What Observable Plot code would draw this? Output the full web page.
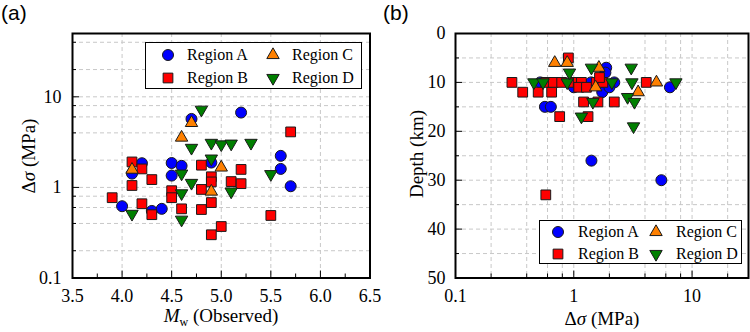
<!DOCTYPE html>
<html><head><meta charset="utf-8">
<script src="https://cdn.jsdelivr.net/npm/d3@7"></script>
<script src="https://cdn.jsdelivr.net/npm/@observablehq/plot@0.6"></script>
<style>
body{margin:0;background:#fff;}
#wrap{position:relative;width:750px;height:332px;overflow:hidden;font-family:"Liberation Serif",serif;color:#000;}
.panel{position:absolute;top:0;}
.lab{position:absolute;font-size:19px;line-height:1;white-space:nowrap;transform:translate(-50%,-50%);}
.rot{transform:translate(-50%,-50%) rotate(-90deg);}
.lab sub{font-size:12px;vertical-align:-4px;font-style:normal;}
.tag{position:absolute;font-family:"Liberation Sans",Arial,sans-serif;font-size:21px;line-height:1;}
.legend{position:absolute;background:#fff;border:1.5px solid #000;box-sizing:border-box;}
.li{position:absolute;font-size:16px;line-height:1;white-space:nowrap;transform:translateY(-50%);}
.ls{position:absolute;}
</style>
</head><body>
<div id="wrap"></div>
<script>
// ---------- Data: panel (a) Mw vs stress drop ----------
const aMwA   = [4.0, 4.1, 4.2, 4.3, 4.4, 4.5, 4.5, 4.6, 4.7, 4.9, 5.2, 5.6, 5.6, 5.7];
const aDropA = [0.62, 1.42, 1.85, 0.55, 0.58, 1.86, 1.35, 1.73, 5.7, 1.88, 6.7, 2.23, 1.6, 1.03];
const aMwB   = [3.9, 4.1, 4.1, 4.2, 4.2, 4.3, 4.3, 4.5, 4.5, 4.6, 4.8, 4.8, 4.8, 4.9, 4.9, 4.9, 4.9, 5.0, 5.1, 5.2, 5.2, 5.5, 5.7];
const aDropB = [0.77, 1.91, 1.05, 1.6, 0.66, 1.22, 0.5, 0.92, 0.77, 0.58, 1.76, 0.95, 0.57, 1.31, 1.15, 0.68, 0.3, 0.37, 1.16, 1.58, 1.1, 0.49, 4.1];
const aMwC   = [4.1, 4.6, 4.7, 4.9, 5.0];
const aDropC = [1.57, 3.55, 5.15, 0.9, 1.66];
const aMwD   = [4.1, 4.6, 4.6, 4.6, 4.7, 4.7, 4.8, 4.9, 4.9, 5.0, 5.1, 5.1, 5.3, 5.5];
const aDropD = [0.51, 1.42, 0.86, 0.44, 2.73, 1.12, 7.2, 3.1, 2.08, 2.98, 3.04, 0.9, 3.1, 1.4];

// ---------- Data: panel (b) stress drop vs depth ----------
const bDropA  = [0.57, 0.64, 1.41, 5.5, 6.5, 1.88, 1.85, 1.74, 2.2, 2.0, 1.4, 1.0, 0.52, 1.58];
const bDepthA = [15, 15, 26, 30, 11, 7, 8, 12, 10, 11, 10, 11, 10, 10];
const bDropB  = [0.3, 0.37, 0.5, 0.65, 0.58, 0.67, 0.79, 0.98, 1.09, 1.16, 1.55, 1.76, 0.9, 0.76, 0.58, 1.1, 1.28, 1.65, 1.21, 1.6, 2.2, 1.32, 4.1];
const bDepthB = [10, 12, 12, 12, 10, 10, 10, 10, 10, 10, 10, 10, 5, 17, 33, 11, 11, 9, 14, 14, 14, 17, 10];
const bDropC  = [0.69, 0.88, 1.63, 1.53, 5.0, 3.5];
const bDepthC = [6, 6, 7, 11, 10, 12];
const bDropD  = [0.46, 0.55, 0.88, 0.92, 1.41, 2.1, 3.06, 3.1, 7.3, 2.85, 3.26, 1.45, 1.16, 3.2];
const bDepthD = [10, 10, 10, 8, 7, 10, 7, 10, 10, 13, 14, 14, 17, 19];

// ---------- Ticks ----------
const mwMajor = [3.5, 4.0, 4.5, 5.0, 5.5, 6.0, 6.5];
const mwMinor = [3.75, 4.25, 4.75, 5.25, 5.75, 6.25];
const dropMajorA = [0.1, 1, 10];
const dropMinorA = [0.2, 0.4, 0.6, 0.8, 2, 4, 6, 8, 20, 40];
const dropMajorB = [0.1, 1, 10];
const dropMinorB = [0.2, 0.4, 0.6, 0.8, 2, 4, 6, 8, 20];
const depthMajor = [0, 10, 20, 30, 40, 50];
const depthMinor = [5, 15, 25, 35, 45];

const regionNames = ["Region A", "Region B", "Region C", "Region D"];
const regionColors = ["#0000ff", "#ff0000", "#ff8000", "#007f00"];

// ---------- Symbols ----------
const sqrt3 = Math.sqrt(3);
const triangleDown = {
  draw(ctx, size) {
    const y = Math.sqrt(size / (sqrt3 * 3));
    ctx.moveTo(0, 2 * y);
    ctx.lineTo(-sqrt3 * y, -y);
    ctx.lineTo(sqrt3 * y, -y);
    ctx.closePath();
  }
};
const symbols = ["circle", "square", "triangle", triangleDown];
const radii = [5.5, 5.5, 4.6, 4.6];
const d3Symbols = [d3.symbolCircle, d3.symbolSquare, d3.symbolTriangle, triangleDown];

const gridStyle = {stroke: "#c8c8c8", strokeOpacity: 1, strokeDasharray: "4,3", strokeWidth: 1};
const plotStyle = {fontFamily: "Liberation Serif, serif", fontSize: "18px", color: "#000", background: "transparent", overflow: "visible"};

function dots(xs, ys, k) {
  return Plot.dot(d3.range(xs.length), {
    x: xs, y: ys, r: radii[k], symbol: symbols[k],
    fill: regionColors[k], stroke: "#1a1a1a", strokeWidth: 1
  });
}
const blank = () => "";

const plotA = Plot.plot({
  width: 375, height: 332,
  marginTop: 33, marginBottom: 54.5, marginLeft: 72, marginRight: 5.5,
  style: plotStyle,
  x: {type: "linear", domain: [3.5, 6.5]},
  y: {type: "log", domain: [0.1, 50]},
  marks: [
    Plot.gridX(mwMajor.slice(1, -1), gridStyle),
    Plot.gridY(dropMajorA.slice(1).concat(dropMinorA), gridStyle),
    dots(aMwA, aDropA, 0),
    dots(aMwB, aDropB, 1),
    dots(aMwC, aDropC, 2),
    dots(aMwD, aDropD, 3),
    Plot.frame({stroke: "#000", strokeWidth: 2}),
    Plot.axisX(mwMajor, {tickSize: -7, tickFormat: blank, label: null}),
    Plot.axisX(mwMinor, {tickSize: -4, tickFormat: blank, label: null}),
    Plot.axisX(mwMajor, {tickSize: 0, tickPadding: 11, tickFormat: d3.format(".1f"), label: null}),
    Plot.axisY(dropMajorA, {tickSize: -7, tickFormat: blank, label: null}),
    Plot.axisY(dropMinorA, {tickSize: -4, tickFormat: blank, label: null}),
    Plot.axisY(dropMajorA, {tickSize: 0, tickPadding: 11, tickFormat: d => String(d), label: null})
  ]
});

const plotB = Plot.plot({
  width: 375, height: 332,
  marginTop: 33, marginBottom: 54.5, marginLeft: 80, marginRight: 2,
  style: plotStyle,
  x: {type: "log", domain: [0.1, 30]},
  y: {type: "linear", domain: [0, 50], reverse: true},
  marks: [
    Plot.gridX(dropMajorB.slice(1).concat(dropMinorB), gridStyle),
    Plot.gridY(depthMajor.slice(1, -1).concat(depthMinor), gridStyle),
    dots(bDropA, bDepthA, 0),
    dots(bDropB, bDepthB, 1),
    dots(bDropC, bDepthC, 2),
    dots(bDropD, bDepthD, 3),
    Plot.frame({stroke: "#000", strokeWidth: 2}),
    Plot.axisX(dropMajorB, {tickSize: -7, tickFormat: blank, label: null}),
    Plot.axisX(dropMinorB, {tickSize: -4, tickFormat: blank, label: null}),
    Plot.axisX(dropMajorB, {tickSize: 0, tickPadding: 11, tickFormat: d => String(d), label: null}),
    Plot.axisY(depthMajor, {tickSize: -7, tickFormat: blank, label: null}),
    Plot.axisY(depthMinor, {tickSize: -4, tickFormat: blank, label: null}),
    Plot.axisY(depthMajor, {tickSize: 0, tickPadding: 10, tickFormat: d => String(d), label: null})
  ]
});

const wrap = document.getElementById("wrap");
function place(el, left) {
  const d = document.createElement("div");
  d.className = "panel";
  d.style.left = left + "px";
  d.appendChild(el);
  wrap.appendChild(d);
}
place(plotA, 0);
place(plotB, 375);

function addHTML(cls, html, css) {
  const d = document.createElement("div");
  d.className = cls;
  d.innerHTML = html;
  Object.assign(d.style, css);
  wrap.appendChild(d);
  return d;
}
// Panel tags
addHTML("tag", "(a)", {left: "1px", top: "2px"});
addHTML("tag", "(b)", {left: "383px", top: "2px"});
// Axis titles
addHTML("lab rot", "&Delta;<i>&sigma;</i> (MPa)", {left: "28px", top: "156px"});
addHTML("lab", "<i>M</i><sub>w</sub> (Observed)", {left: "221px", top: "317px"});
addHTML("lab rot", "Depth (km)", {left: "416px", top: "154px"});
addHTML("lab", "&Delta;<i>&sigma;</i> (MPa)", {left: "602px", top: "318px"});

// Legends
function symbolSVG(k) {
  const size = Math.PI * radii[k] * radii[k];
  const path = d3.symbol().type(d3Symbols[k]).size(size)();
  return `<svg width="16" height="16" viewBox="-8 -8 16 16" style="display:block"><path d="${path}" fill="${regionColors[k]}" stroke="#1a1a1a" stroke-width="1"/></svg>`;
}
function legend(left, top, w, h, cols, rows, gap) {
  const box = addHTML("legend", "", {left: left + "px", top: top + "px", width: w + "px", height: h + "px"});
  // order: A (col0,row0), B (col0,row1), C (col1,row0), D (col1,row1)
  regionNames.forEach((name, k) => {
    const cx = cols[Math.floor(k / 2)], cy = rows[k % 2];
    const s = document.createElement("div");
    s.className = "ls";
    s.style.left = (cx - 8) + "px";
    s.style.top = (cy - 8) + "px";
    s.innerHTML = symbolSVG(k);
    box.appendChild(s);
    const t = document.createElement("div");
    t.className = "li";
    t.style.left = (cx + gap) + "px";
    t.style.top = cy + "px";
    t.textContent = name;
    box.appendChild(t);
  });
}
legend(145, 42, 217, 47, [22, 127], [12, 35], 19);
legend(539, 220, 203, 44, [18, 116], [11, 33], 20);
</script>
</body></html>
